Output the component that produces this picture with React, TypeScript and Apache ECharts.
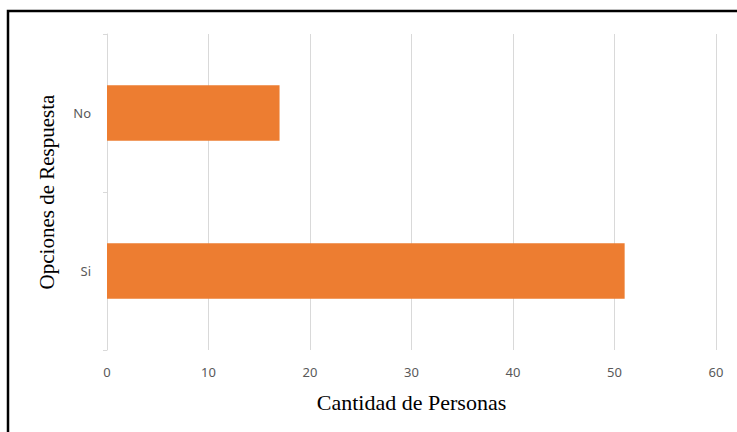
import React, { useEffect, useRef } from "react";
import * as echarts from "echarts";

const categories = ["Si", "No"];
const values = [51, 17];
const xTicks = [0, 10, 20, 30, 40, 50, 60];

export default function App() {
  const ref = useRef<HTMLDivElement>(null);
  useEffect(() => {
    if (!ref.current) return;
    const chart = echarts.init(ref.current, null, { renderer: "svg" });
    chart.setOption({
      animation: false,
      backgroundColor: "#ffffff",
      grid: { left: 107, right: 21, top: 34, bottom: 82, containLabel: false },
      xAxis: {
        type: "value",
        min: xTicks[0],
        max: xTicks[xTicks.length - 1],
        interval: 10,
        name: "Cantidad de Personas",
        nameLocation: "middle",
        nameGap: 41,
        nameTextStyle: { fontFamily: "Liberation Serif", fontSize: 22, color: "#000" },
        axisLine: { show: false },
        axisTick: { show: false },
        axisLabel: { color: "#595959", fontFamily: "Noto Sans", fontSize: 13, margin: 15 },
        splitLine: { show: true, lineStyle: { color: "#d9d9d9", width: 1 } },
      },
      yAxis: {
        type: "category",
        data: categories,
        name: "Opciones de Respuesta",
        nameLocation: "middle",
        nameGap: 50,
        nameTextStyle: { fontFamily: "Liberation Serif", fontSize: 21, color: "#000" },
        axisLine: { show: true, lineStyle: { color: "#d9d9d9", width: 1 } },
        axisTick: { show: true, length: 4, lineStyle: { color: "#d9d9d9" } },
        axisLabel: { color: "#595959", fontFamily: "Noto Sans", fontSize: 13, margin: 16 },
        splitLine: { show: false },
      },
      series: [
        {
          type: "bar",
          data: values,
          barWidth: "35%",
          itemStyle: { color: "#ED7D31" },
        },
      ],
      graphic: [
        {
          type: "rect",
          shape: { x: 8, y: 11, width: 800, height: 500 },
          style: { fill: "none", stroke: "#000", lineWidth: 2.5 },
          z: 100,
        },
      ],
    });
    return () => chart.dispose();
  }, []);
  return (
    <div
      ref={ref}
      style={{ position: "fixed", left: 0, top: 0, width: 737, height: 432 }}
    />
  );
}
